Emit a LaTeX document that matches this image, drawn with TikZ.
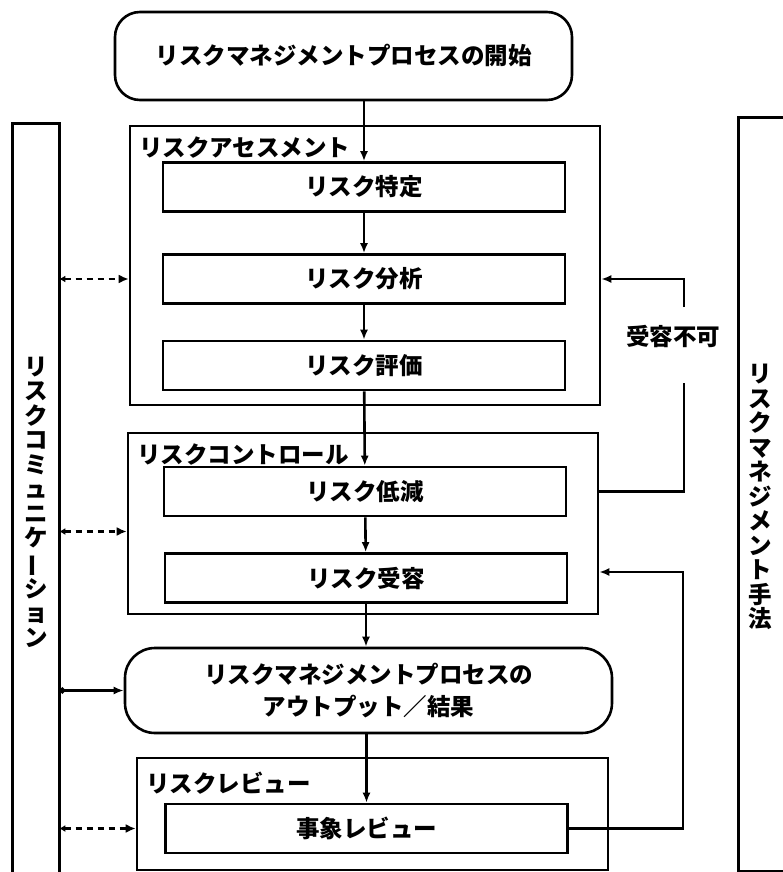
\documentclass[tikz,border=0pt]{standalone}
\usepackage{fontspec}
\usepackage{graphicx}
\setmainfont{Noto Sans CJK JP}
\usetikzlibrary{arrows.meta}
\newcommand{\vbar}{\rotatebox[origin=c]{90}{ー}}

\begin{document}
\begin{tikzpicture}[x=1pt,y=-1pt,line width=2.6pt,>={Latex[length=10pt,width=8pt]},
		font=\bfseries\fontsize{23.5}{24.5}\selectfont,
		box/.style={draw,minimum width=402,minimum height=49,inner sep=0},
		grp/.style={draw,inner sep=0},
		lbl/.style={anchor=west,inner sep=0},
		vtxt/.style={align=center,inner sep=0},
		dsh/.style={dash pattern=on 6pt off 5pt,{Latex[length=6pt,width=7pt]}-{Latex[length=10pt,width=9pt]}}]
	\useasboundingbox (0,0) rectangle (782,872);
	% side bars
	\path node[minimum width=44,minimum height=760,inner sep=0] (comm) at (36,505) {};
	\draw (comm.south west) |- (comm.north east) -- (comm.south east);
	\node[vtxt] (commTxt) at (36,502) {リ\\ス\\ク\\コ\\ミ\\ュ\\ニ\\ケ\\\vbar\\シ\\ョ\\ン};
	\path node[minimum width=50,minimum height=751,inner sep=0] (mth) at (765,494.5) {};
	\draw (mth.north east) -| (mth.south west) -- (mth.south east);
	\node[vtxt] (mthTxt) at (760,497) {リ\\ス\\ク\\マ\\ネ\\ジ\\メ\\ン\\ト\\手\\法};
	% groups
	\node[grp,minimum width=470,minimum height=279] (assess) at (365,265.5) {};
	\node[grp,minimum width=470,minimum height=181] (ctrl) at (363,523.5) {};
	\node[grp,minimum width=471,minimum height=112] (review) at (372.5,814) {};
	\node[lbl] (assessLbl) at (138,148) {リスクアセスメント};
	\node[lbl] (ctrlLbl) at (136,455) {リスクコントロール};
	\node[lbl] (reviewLbl) at (145,783) {リスクレビュー};
	% process
	\node[draw,rounded corners=25,minimum width=457,minimum height=88] (start) at (343.5,56) {リスクマネジメントプロセスの開始};
	\node[box] (riskId) at (364,187) {リスク特定};
	\node[box] (analysis) at (364,279) {リスク分析};
	\node[box] (evaluation) at (364,365.5) {リスク評価};
	\node[box] (reduce) at (365,491.5) {リスク低減};
	\node[box] (accept) at (366,578) {リスク受容};
	\node[draw,rounded corners=30,minimum width=487,minimum height=85,align=center] (output) at (368.5,690.5) {リスクマネジメントプロセスの\\[8pt]アウトプット／結果};
	\node[box] (eventrev) at (366.5,828.5) {事象レビュー};
	\draw[->] (start.south -| riskId.north) -- (riskId.north);
	\draw[->] (riskId) -- (analysis);
	\draw[->] (analysis) -- (evaluation);
	\draw[->] (evaluation) -- (reduce);
	\draw[->] (reduce) -- (accept);
	\draw[->] (accept.south) -- (accept.south |- output.north);
	\draw[->] (output.south -| eventrev) -- (eventrev.north);
	% feedback
	\node (ng) at (673,336) {受容不可};
	\coordinate (ngTop) at (684,307);
	\coordinate (ngBot) at (684,383);
	\draw (ctrl.east |- reduce) -| (ngBot);
	\draw[->] (ngTop) |- (assess.east |- analysis);
	\coordinate (fb) at (683,572);
	\draw[->] (eventrev.east) -| (fb) -- (ctrl.east |- fb);
	% communication
	\draw[dsh] (comm.east |- analysis) -- (assess.west |- analysis);
	\draw[dsh] ([yshift=-8pt]comm.east |- ctrl.west) -- ([yshift=-8pt]ctrl.west);
	\draw[dsh] (comm.east |- eventrev) -- (review.west |- eventrev);
	\draw[{Circle[length=6pt]}->] (comm.east |- output) -- (output.west);
\end{tikzpicture}
\end{document}
